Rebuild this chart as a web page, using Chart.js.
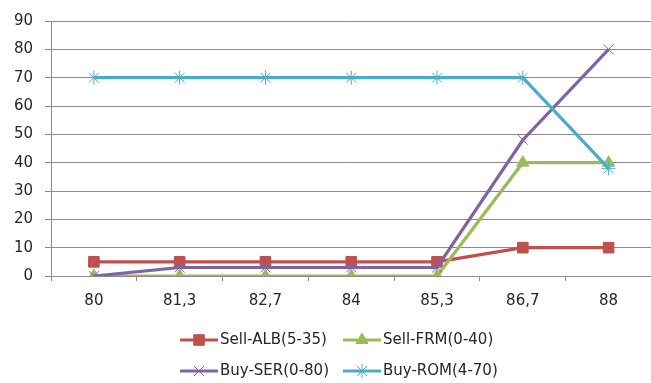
<!DOCTYPE html>
<html>
<head>
<meta charset="utf-8">
<script src="https://cdn.jsdelivr.net/npm/chart.js@4/dist/chart.umd.min.js"></script>
<style>
  html, body { margin: 0; padding: 0; background: #ffffff; overflow: hidden; }
  #wrap { width: 660px; height: 383px; }
</style>
</head>
<body>
<div id="wrap"><canvas id="c" width="660" height="383"></canvas></div>
<script>
// Price points on the x axis
const categories = ['80', '81,3', '82,7', '84', '85,3', '86,7', '88'];

// Series values
const sellALB = [5, 5, 5, 5, 5, 10, 10];
const sellFRM = [0, 0, 0, 0, 0, 40, 40];
const buySER  = [0, 3, 3, 3, 3, 48, 80];
const buyROM  = [70, 70, 70, 70, 70, 70, 38];

const seriesNames = ['Sell-ALB(5-35)', 'Sell-FRM(0-40)', 'Buy-SER(0-80)', 'Buy-ROM(4-70)'];

// Y axis range
const yMin = 0, yMax = 90, yStep = 10;

const FONT = '"DejaVu Sans", sans-serif';
const FONT_SIZE = 15;
const TEXT = '#262626';
const GRID = '#8a8a8a';

function ds(label, data, color, style, radius, order, filled) {
  return {
    label, data, order,
    borderColor: color,
    backgroundColor: color,
    borderWidth: 3.2,
    tension: 0,
    pointStyle: style,
    pointRadius: radius,
    pointHoverRadius: radius,
    pointBorderWidth: 1,
    pointBorderColor: color,
    pointBackgroundColor: filled ? color : 'rgba(0,0,0,0)'
  };
}

const datasets = [
  ds(seriesNames[0], sellALB, '#C0504D', 'rect', 7.5, 4, true),
  ds(seriesNames[1], sellFRM, '#9BBB59', 'triangle', 7, 3, true),
  ds(seriesNames[2], buySER, '#8064A2', 'crossRot', 7, 2, false),
  ds(seriesNames[3], buyROM, '#4BACC6', 'star', 7, 1, false)
];

// Two-column legend drawn under the axis
const legendPlugin = {
  id: 'gridLegend',
  afterDraw(chart) {
    const ctx = chart.ctx;
    const cols = [180, 343];
    const rows = [340, 371];
    chart.data.datasets.forEach((d, i) => {
      const x = cols[i % 2];
      const y = rows[Math.floor(i / 2)];
      ctx.save();
      ctx.strokeStyle = d.borderColor;
      ctx.fillStyle = d.borderColor;
      ctx.lineWidth = 3.2;
      ctx.beginPath();
      ctx.moveTo(x, y);
      ctx.lineTo(x + 38, y);
      ctx.stroke();
      ctx.lineWidth = 1;
      Chart.helpers.drawPoint(ctx, {
        pointStyle: d.pointStyle,
        radius: d.pointRadius,
        rotation: 0,
        borderWidth: 1
      }, x + 19, y);
      ctx.fillStyle = TEXT;
      ctx.font = FONT_SIZE + 'px ' + FONT;
      ctx.textBaseline = 'middle';
      ctx.textAlign = 'left';
      ctx.fillText(d.label, x + 40, y);
      ctx.restore();
    });
  }
};

new Chart(document.getElementById('c'), {
  type: 'line',
  data: { labels: categories, datasets },
  plugins: [legendPlugin],
  options: {
    responsive: false,
    animation: false,
    devicePixelRatio: 1,
    layout: { padding: { top: 20, right: 3, bottom: 0, left: 0 } },
    plugins: {
      legend: { display: false },
      tooltip: { enabled: false }
    },
    scales: {
      x: {
        offset: true,
        grid: {
          offset: true,
          drawOnChartArea: false,
          drawTicks: true,
          tickLength: 5,
          color: GRID
        },
        border: { display: true, color: GRID, width: 1 },
        ticks: {
          color: TEXT,
          font: { family: FONT, size: FONT_SIZE },
          padding: 11,
          maxRotation: 0,
          autoSkip: false
        },
        afterFit(scale) { scale.height = 107; }
      },
      y: {
        min: yMin,
        max: yMax,
        grid: {
          color: GRID,
          drawTicks: true,
          tickLength: 6
        },
        border: { display: true, color: GRID, width: 1 },
        ticks: {
          stepSize: yStep,
          color: TEXT,
          font: { family: FONT, size: FONT_SIZE },
          padding: 12
        },
        afterFit(scale) { scale.width = 51; }
      }
    }
  }
});
</script>
</body>
</html>
